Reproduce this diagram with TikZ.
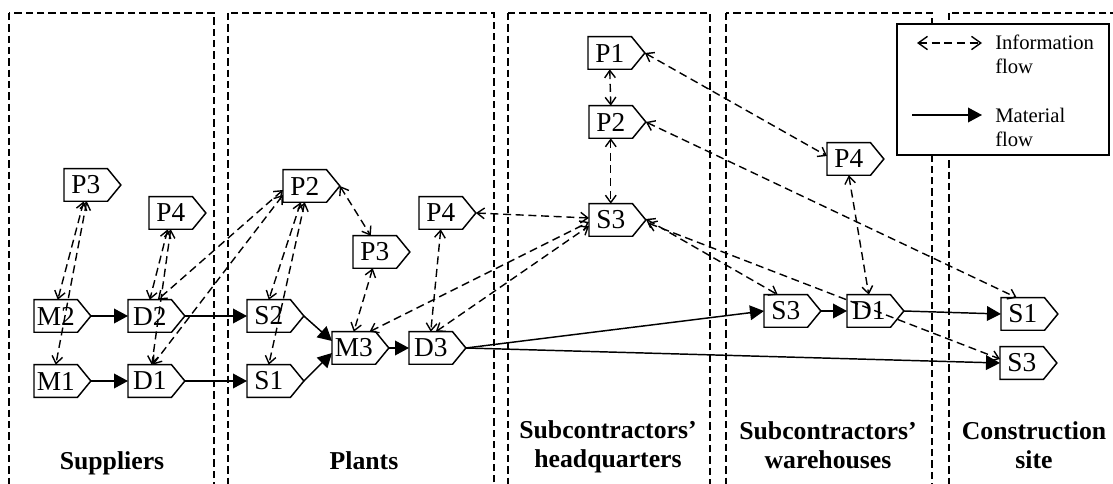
\documentclass[tikz,border=0pt]{standalone}
\usepackage{fontspec}
\setmainfont{Liberation Serif}
\usetikzlibrary{arrows.meta,calc}
\begin{document}
\begin{tikzpicture}[x=0.75pt,y=-0.75pt,
  tagline/.style={line width=1.1pt, line join=miter},
  tag/.style={rectangle, inner sep=0pt, minimum width=32.25pt, minimum height=24pt,
    anchor=west, font=\fontsize{20.5}{22}\selectfont,
    append after command={\pgfextra{\let\tagnode\tikzlastnode
      \draw[tagline] (\tagnode.north west) -- (\tagnode.north east)
        -- ([xshift=10pt]\tagnode.east) coordinate (\tagnode-tip)
        -- (\tagnode.south east) -- (\tagnode.south west) -- cycle;}}},
  info/.style={line width=1.05pt, dash pattern=on 6pt off 3.5pt,
    {Straight Barb[length=5.5pt,width=8pt]}-{Straight Barb[length=5.5pt,width=8pt]}},
  mat/.style={line width=1.1pt, -{Triangle[length=10.5pt,width=11pt]}},
  col/.style={line width=1.05pt, dash pattern=on 5.5pt off 3pt},
  lab/.style={inner sep=0pt, font=\fontsize{19.3}{22}\selectfont\bfseries, align=center},
  legtext/.style={inner sep=0pt, anchor=north west, align=left, font=\fontsize{15.5}{18}\selectfont},
]
\useasboundingbox (0,0) rectangle (1113,484);

% columns
\begin{scope}
\clip (0,0) rectangle (1113,484);
\draw[col] (9,13) rectangle (214,500);
\draw[col] (228,13) rectangle (494,500);
\draw[col] (508,13) rectangle (710,500);
\draw[col] (726,13) rectangle (932,500);
\draw[col] (949,13) rectangle (1130,500);
\end{scope}

% column labels
\node[lab, anchor=base] (labSup) at (112,469) {Suppliers};
\node[lab, anchor=base] (labPla) at (364,469) {Plants};
\node[lab] (labHQ) at (608,447) {Subcontractors’\\headquarters};
\node[lab] (labWH) at (828,445) {Subcontractors’\\warehouses};
\node[lab] (labCS) at (1034,445) {Construction\\site};

% legend
\draw[line width=1.1pt, fill=white] (897,24) rectangle (1109,155);
\coordinate (infoA) at (917,43);
\coordinate (infoB) at (982,43);
\draw[line width=1.05pt, dash pattern=on 6pt off 3.5pt,
  {Straight Barb[length=7pt,width=10pt]}-{Straight Barb[length=7pt,width=10pt]}] (infoA) -- (infoB);
\coordinate (matA) at (912,115);
\coordinate (matB) at (982,115);
\draw[mat] (matA) -- (matB);
\node[legtext] (infoT) at (995,35) {Information\\flow};
\node[legtext] (matT) at (995,108) {Material\\flow};

% suppliers
\node[tag] (sP3) at (64,185) {P3};
\node[tag] (sP4) at (149,213) {P4};
\node[tag] (sM2) at (34,316) {M2};
\node[tag] (sD2) at (128,316) {D2};
\node[tag] (sM1) at (34,381) {M1};
\node[tag] (sD1) at (128,381) {D1};
% plants
\node[tag] (pS2) at (247,316) {S2};
\node[tag] (pS1) at (247,381) {S1};
\node[tag] (pP2) at (283,186) {P2};
\node[tag] (pP3) at (353,252) {P3};
\node[tag] (pP4) at (419,213) {P4};
\node[tag] (pM3) at (332,348) {M3};
\node[tag] (pD3) at (409,348) {D3};
% headquarters
\node[tag] (hP1) at (588,53) {P1};
\node[tag] (hP2) at (589,122) {P2};
\node[tag] (hS3) at (589,220) {S3};
% warehouses
\node[tag] (wP4) at (827,159) {P4};
\node[tag] (wS3) at (764,311) {S3};
\node[tag] (wD1) at (847,311) {D1};
% construction site
\node[tag] (cS1) at (1001,314) {S1};
\node[tag] (cS3) at (1000,363) {S3};

% material flow
\draw[mat] (sM2-tip) -- (sD2.west);
\draw[mat] (sM1-tip) -- (sD1.west);
\draw[mat] (sD2-tip) -- (pS2.west);
\draw[mat] (sD1-tip) -- (pS1.west);
\draw[mat] (pS2-tip) -- ($(pM3.west)+(0,-7)$);
\draw[mat] (pS1-tip) -- ($(pM3.west)+(0,5)$);
\draw[mat] (pM3-tip) -- (pD3.west);
\draw[mat] (pD3-tip) -- (wS3.west);
\draw[mat] (pD3-tip) -- (cS3.west);
\draw[mat] (wS3-tip) -- (wD1.west);
\draw[mat] (wD1-tip) -- (cS1.west);

% information flow
\draw[info] ($(sP3.south)+(-2,0)$) -- ($(sM2.north)+(2,0)$);
\draw[info] ($(sP3.south)+(1,0)$) -- (sM1.north);
\draw[info] ($(sP4.south)+(-3,0)$) -- (sD2.north);
\draw[info] (sP4.south) -- ($(sD1.north)+(2,0)$);
\draw[info] ($(pP2.west)+(0,4)$) -- ($(sD2.north)+(8,0)$);
\draw[info] ($(pP2.west)+(0,9)$) -- ($(sD1.north)+(3,0)$);
\draw[info] ($(pP2.south)+(-4,0)$) -- (pS2.north);
\draw[info] (pP2.south) -- (pS1.north);
\draw[info] (pP2-tip) -- ($(pP3.north)+(-4,0)$);
\draw[info] ($(pP3.south)+(-2,0)$) -- (pM3.north);
\draw[info] (pP4.south) -- (pD3.north);
\draw[info] (pP4-tip) -- ($(hS3.west)+(0,-2)$);
\draw[info] ($(pM3.north east)+(-6,0)$) -- ($(hS3.west)+(0,2)$);
\draw[info] ($(pD3.north)+(5,0)$) -- ($(hS3.west)+(0,6)$);
\draw[info] (hP1.south) -- (hP2.north);
\draw[info] (hP2.south) -- (hS3.north);
\draw[info] (hP1-tip) -- ($(wP4.west)+(0,-3)$);
\draw[info] (hP2-tip) -- ($(cS1.north)+(-6,0)$);
\draw[info] ($(hS3-tip)+(0,-1)$) -- ($(wS3.north)+(-8,0)$);
\draw[info] ($(hS3-tip)+(2,3)$) -- ($(cS3.west)+(0,-4)$);
\draw[info] (wP4.south) -- (wD1.north);
\end{tikzpicture}
\end{document}
